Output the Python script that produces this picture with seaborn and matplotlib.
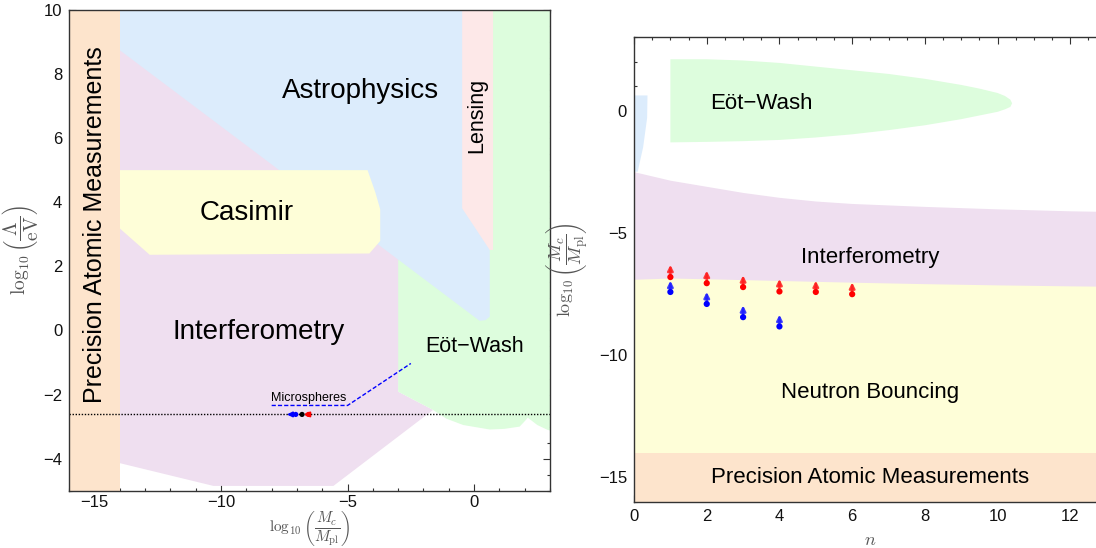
import numpy as np
import pandas as pd
import matplotlib
matplotlib.use("Agg")
import matplotlib.pyplot as plt
from matplotlib.ticker import MultipleLocator
import seaborn as sns

# ---------------- data: left panel (log10 Mc/Mpl vs log10 Lambda/eV) ----------------
precision_x = [-16, -14, -14, -16]
precision_y = [-5, -5, 10, 10]

interf_x = [-14, -2.8, -3.0, -1.62, -5.56, -10.3, -14]
interf_y = [8.95, 2.3, -1.91, -2.48, -4.85, -4.85, -4.14]

eotwash_x = [-3.0, 3.0, 3.0, 2.9, 2.5, 2.12, 2.04, 1.8, 1.2, 0.62, -0.43, -1.1, -1.62, -3.0]
eotwash_y = [10, 10, -3.12, -3.1, -2.95, -2.72, -2.8, -3.0, -3.07, -3.09, -2.95, -2.75, -2.48, -1.91]

astro_x = [-14, 0.62, 0.62, 0.45, 0.22, -14]
astro_y = [10, 10, 0.43, 0.32, 0.30, 8.74]

lensing_x = [-0.47, 0.75, 0.75, 0.62, -0.47]
lensing_y = [10, 10, 2.51, 2.51, 3.81]

casimir_x = [-14, -4.21, -3.9, -3.71, -3.71, -4.14, -12.82, -14]
casimir_y = [5.0, 5.0, 4.3, 3.78, 2.79, 2.40, 2.36, 3.18]

baseline_y = -2.62
micro_line_x = [-8.0, -5.0, -2.5]
micro_line_y = [-2.34, -2.34, -1.03]

micro_dot_x = [-7.05, -6.80, -6.55]
micro_arrow_end_x = [-7.40, None, -6.72]
micro_colors = ["#0000ff", "#000000", "#ff0000"]

# ---------------- data: right panel (n vs log10 Mc/Mpl) ----------------
r_precision_top = -14.0
r_bottom = -16.0

r_neutron_x = [0, 1, 2, 4, 6, 8, 10, 12, 14]
r_neutron_top = [-6.9, -6.85, -6.88, -6.95, -7.02, -7.08, -7.13, -7.17, -7.2]

r_interf_x = [0, 1, 2, 3, 4, 5, 6, 8, 10, 12, 14]
r_interf_top = [-2.5, -2.85, -3.1, -3.35, -3.55, -3.7, -3.8, -3.92, -4.02, -4.1, -4.15]

r_eot_top_x = [1, 2, 3, 4, 5, 6, 7, 8, 9, 9.5, 10, 10.2, 10.35, 10.4]
r_eot_top_y = [2.1, 2.1, 2.05, 1.95, 1.8, 1.65, 1.5, 1.3, 1.05, 0.9, 0.72, 0.6, 0.45, 0.3]
r_eot_bot_x = [10.35, 10.2, 10, 9.5, 9, 8, 7, 6, 5, 4, 3, 2, 1]
r_eot_bot_y = [0.15, 0.05, -0.05, -0.2, -0.35, -0.6, -0.8, -0.97, -1.1, -1.2, -1.25, -1.28, -1.3]

r_astro_x = [0, 0.37, 0.36, 0.25, 0.1, 0]
r_astro_y = [0.62, 0.62, -0.3, -1.5, -2.5, -2.5]

n_red = [1, 2, 3, 4, 5, 6]
red_dot = [-6.81, -7.06, -7.22, -7.40, -7.42, -7.51]
red_tip = [-6.31, -6.55, -6.74, -6.89, -6.96, -7.03]
n_blue = [1, 2, 3, 4]
blue_dot = [-7.42, -7.91, -8.45, -8.83]
blue_tip = [-6.96, -7.42, -7.97, -8.35]

# ---------------- colours ----------------
C_PEACH = "#fde4cc"
C_BLUE = "#dcecfc"
C_PURPLE = "#efdff0"
C_YELLOW = "#fefed8"
C_GREEN = "#ddfddd"
C_PINK = "#fde8e8"

sns.set_style("ticks")
plt.rcParams["font.family"] = ["Liberation Sans", "DejaVu Sans"]
plt.rcParams["mathtext.fontset"] = "cm"
plt.rcParams["text.color"] = "black"

fig = plt.figure(figsize=(10.96, 5.48), dpi=100)
axL = fig.add_axes([0.0632, 0.1045, 0.4386, 0.8775])
axR = fig.add_axes([0.5785, 0.0845, 0.4312, 0.8475])


def style_axes(ax, xmaj, xmin, ymaj, ymin):
    ax.xaxis.set_major_locator(MultipleLocator(xmaj))
    ax.xaxis.set_minor_locator(MultipleLocator(xmin))
    ax.yaxis.set_major_locator(MultipleLocator(ymaj))
    ax.yaxis.set_minor_locator(MultipleLocator(ymin))
    ax.tick_params(which="both", direction="in", top=True, right=True,
                   color="#333333", width=0.8)
    ax.tick_params(which="major", length=5, labelsize=12, pad=5, labelcolor="#111111")
    ax.tick_params(which="minor", length=2.5)
    for s in ax.spines.values():
        s.set_color("#333333")
        s.set_linewidth(1.0)
        s.set_zorder(10)


# ---------------- left panel ----------------
ax = axL
ax.fill(interf_x, interf_y, color=C_PURPLE, lw=0, zorder=1)
ax.fill(eotwash_x, eotwash_y, color=C_GREEN, lw=0, zorder=2)
ax.fill(astro_x, astro_y, color=C_BLUE, lw=0, zorder=3)
ax.fill(lensing_x, lensing_y, color=C_PINK, lw=0, zorder=4)
ax.fill(casimir_x, casimir_y, color=C_YELLOW, lw=0, zorder=5)
ax.fill(precision_x, precision_y, color=C_PEACH, lw=0, zorder=6)

ax.axhline(baseline_y, color="black", lw=1.0, ls=(0, (1, 1.2)), zorder=7)
ax.plot(micro_line_x, micro_line_y, color="#0000ff", lw=1.0, ls=(0, (3, 1.5)), zorder=7)
ax.text(-6.55, -2.12, "Microspheres", fontsize=9, ha="center", va="center", zorder=8)

for xd, xe, c in zip(micro_dot_x, micro_arrow_end_x, micro_colors):
    if xe is not None:
        ax.annotate("", xy=(xe, baseline_y), xytext=(xd, baseline_y),
                    arrowprops=dict(arrowstyle="-|>", color=c, lw=1.5,
                                    mutation_scale=7, shrinkA=0, shrinkB=0),
                    zorder=8)
mdf = pd.DataFrame({"x": micro_dot_x, "y": [baseline_y] * 3, "c": micro_colors})
sns.scatterplot(data=mdf, x="x", y="y", hue="c", palette={c: c for c in micro_colors},
                s=14, linewidth=0, legend=False, ax=ax, zorder=9)

ax.text(-15.0, 3.3, "Precision Atomic Measurements", rotation=90, fontsize=18,
        ha="center", va="center", zorder=9)
ax.text(-4.49, 7.47, "Astrophysics", fontsize=20, ha="center", va="center", zorder=9)
ax.text(0.12, 6.72, "Lensing", rotation=90, fontsize=15.5, ha="center", va="center", zorder=9)
ax.text(-9.0, 3.67, "Casimir", fontsize=20, ha="center", va="center", zorder=9)
ax.text(-8.5, -0.04, "Interferometry", fontsize=20, ha="center", va="center", zorder=9)
ax.text(0.0, -0.51, "Eöt\u2212Wash", fontsize=15.5, ha="center", va="center", zorder=9)

ax.set_xlim(-16, 3)
ax.set_ylim(-5, 10)
style_axes(ax, 5, 1, 2, 0.5)
ax.tick_params(axis="x", which="major", pad=3)
ax.set_xlabel(r"$\log_{10}\left(\dfrac{M_c}{M_{\rm pl}}\right)$", fontsize=11,
              color="#555555", labelpad=-1)
ax.set_ylabel(r"$\log_{10}\left(\dfrac{\Lambda}{\rm eV}\right)$", fontsize=14,
              color="#555555", labelpad=2)

# ---------------- right panel ----------------
ax = axR
ax.fill_between(r_interf_x, r_interf_top, r_bottom, color=C_PURPLE, lw=0, zorder=1)
ax.fill_between(r_neutron_x, r_neutron_top, r_bottom, color=C_YELLOW, lw=0, zorder=2)
ax.fill_between([0, 14], [r_precision_top] * 2, r_bottom, color=C_PEACH, lw=0, zorder=3)
ax.fill(r_eot_top_x + r_eot_bot_x, r_eot_top_y + r_eot_bot_y, color=C_GREEN, lw=0, zorder=3)
ax.fill(r_astro_x, r_astro_y, color=C_BLUE, lw=0, zorder=3)

for n, d, t in zip(n_red, red_dot, red_tip):
    ax.annotate("", xy=(n, t), xytext=(n, d),
                arrowprops=dict(arrowstyle="-|>", color="#ff2020", lw=1.8,
                                mutation_scale=8, shrinkA=0, shrinkB=0, alpha=0.85),
                zorder=5)
for n, d, t in zip(n_blue, blue_dot, blue_tip):
    ax.annotate("", xy=(n, t), xytext=(n, d),
                arrowprops=dict(arrowstyle="-|>", color="#2020ff", lw=1.8,
                                mutation_scale=8, shrinkA=0, shrinkB=0, alpha=0.85),
                zorder=5)
pts = pd.DataFrame({
    "n": n_red + n_blue,
    "v": red_dot + blue_dot,
    "grp": ["red"] * len(n_red) + ["blue"] * len(n_blue),
})
sns.scatterplot(data=pts, x="n", y="v", hue="grp",
                palette={"red": "#ff0000", "blue": "#0000ff"},
                s=20, linewidth=0, legend=False, ax=ax, zorder=6)

ax.text(3.5, 0.31, "Eöt\u2212Wash", fontsize=16, ha="center", va="center", zorder=9)
ax.text(6.5, -6.0, "Interferometry", fontsize=16, ha="center", va="center", zorder=9)
ax.text(6.5, -11.53, "Neutron Bouncing", fontsize=16, ha="center", va="center", zorder=9)
ax.text(6.5, -15.0, "Precision Atomic Measurements", fontsize=16, ha="center",
        va="center", zorder=9)

ax.set_xlim(0, 13)
ax.set_ylim(-16, 3)
style_axes(ax, 2, 0.5, 5, 1)
ax.set_xlabel(r"$n$", fontsize=13, color="#555555", labelpad=6)
ax.set_ylabel(r"$\log_{10}\left(\dfrac{M_c}{M_{\rm pl}}\right)$", fontsize=13,
              color="#555555", labelpad=6)

fig.savefig("out.png", dpi=100)
